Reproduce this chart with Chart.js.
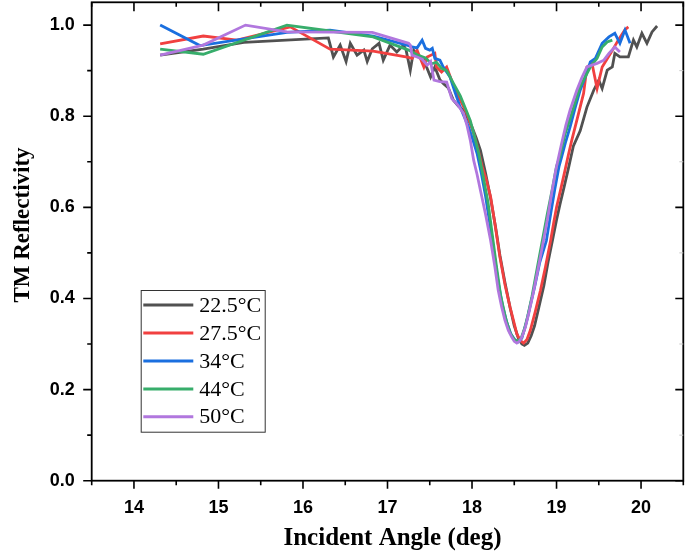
<!DOCTYPE html>
<html>
<head>
<meta charset="utf-8">
<script src="https://cdn.jsdelivr.net/npm/chart.js@4/dist/chart.umd.min.js"></script>
<style>
  html, body { margin: 0; padding: 0; background: #fff; }
  #wrap { position: relative; width: 685px; height: 559px; }
</style>
</head>
<body>
<div id="wrap"><canvas id="c" width="685" height="559"></canvas></div>
<script>
// ---------------- data ----------------
const SERIES_LABELS = ['22.5°C', '27.5°C', '34°C', '44°C', '50°C'];
const SERIES_COLORS = ['#515151', '#F14040', '#1A6FDF', '#37AD6B', '#B177DE'];

const X_TICKS = [14, 15, 16, 17, 18, 19, 20];
const X_MINOR = [13.5, 14.5, 15.5, 16.5, 17.5, 18.5, 19.5, 20.5];
const Y_TICKS = [0.0, 0.2, 0.4, 0.6, 0.8, 1.0];
const Y_MINOR = [0.1, 0.3, 0.5, 0.7, 0.9];

const ANGLE_225 = [14.31, 14.82, 15.30, 16.30, 16.36, 16.44, 16.51, 16.56, 16.64, 16.72, 16.76, 16.82, 16.90, 16.95, 17.03, 17.11, 17.19, 17.22, 17.27, 17.31, 17.37, 17.43, 17.51, 17.56, 17.62, 17.66, 17.72, 17.78, 17.84, 17.90, 17.95, 18.00, 18.05, 18.10, 18.16, 18.22, 18.28, 18.33, 18.39, 18.45, 18.50, 18.55, 18.59, 18.62, 18.66, 18.70, 18.74, 18.79, 18.85, 18.90, 18.96, 19.00, 19.04, 19.09, 19.14, 19.20, 19.28, 19.36, 19.44, 19.50, 19.54, 19.60, 19.66, 19.69, 19.75, 19.85, 19.91, 19.95, 20.01, 20.07, 20.13, 20.19];
const REFL_225  = [0.934, 0.947, 0.962, 0.972, 0.930, 0.956, 0.920, 0.960, 0.934, 0.945, 0.920, 0.948, 0.960, 0.923, 0.956, 0.941, 0.956, 0.945, 0.901, 0.945, 0.930, 0.923, 0.886, 0.908, 0.880, 0.872, 0.862, 0.835, 0.822, 0.813, 0.795, 0.776, 0.752, 0.725, 0.675, 0.620, 0.555, 0.495, 0.435, 0.380, 0.340, 0.312, 0.300, 0.297, 0.302, 0.318, 0.340, 0.380, 0.428, 0.480, 0.535, 0.572, 0.606, 0.645, 0.685, 0.735, 0.768, 0.820, 0.857, 0.879, 0.861, 0.901, 0.908, 0.938, 0.930, 0.930, 0.967, 0.952, 0.982, 0.960, 0.985, 0.998];

const ANGLE_275 = [14.31, 14.82, 15.22, 15.85, 16.32, 16.83, 17.25, 17.29, 17.35, 17.43, 17.47, 17.56, 17.58, 17.64, 17.70, 17.76, 17.82, 17.88, 17.94, 18.02, 18.07, 18.12, 18.17, 18.22, 18.27, 18.33, 18.39, 18.45, 18.50, 18.53, 18.57, 18.61, 18.65, 18.69, 18.75, 18.81, 18.87, 18.93, 18.97, 19.00, 19.05, 19.10, 19.14, 19.18, 19.24, 19.32, 19.36, 19.42, 19.48, 19.54, 19.64, 19.73, 19.81, 19.85];
const REFL_275  = [0.959, 0.976, 0.967, 0.996, 0.947, 0.943, 0.929, 0.927, 0.945, 0.908, 0.930, 0.938, 0.908, 0.897, 0.908, 0.878, 0.850, 0.828, 0.806, 0.762, 0.728, 0.690, 0.660, 0.623, 0.565, 0.491, 0.430, 0.381, 0.345, 0.322, 0.308, 0.302, 0.310, 0.330, 0.372, 0.418, 0.470, 0.527, 0.570, 0.600, 0.640, 0.681, 0.715, 0.747, 0.791, 0.850, 0.908, 0.916, 0.861, 0.908, 0.938, 0.967, 0.990, 0.996];

const ANGLE_34 = [14.31, 14.78, 15.81, 16.32, 16.83, 17.25, 17.29, 17.35, 17.41, 17.45, 17.50, 17.53, 17.56, 17.62, 17.66, 17.74, 17.80, 17.86, 17.91, 17.96, 18.01, 18.06, 18.11, 18.16, 18.21, 18.26, 18.31, 18.36, 18.41, 18.46, 18.51, 18.55, 18.59, 18.64, 18.69, 18.74, 18.80, 18.88, 18.93, 18.98, 19.03, 19.06, 19.11, 19.16, 19.22, 19.28, 19.34, 19.40, 19.46, 19.54, 19.62, 19.69, 19.75, 19.81, 19.87];
const REFL_34  = [1.000, 0.955, 0.984, 0.989, 0.976, 0.955, 0.952, 0.950, 0.967, 0.949, 0.945, 0.949, 0.927, 0.923, 0.908, 0.886, 0.852, 0.820, 0.798, 0.776, 0.748, 0.718, 0.675, 0.625, 0.565, 0.500, 0.435, 0.385, 0.348, 0.322, 0.308, 0.305, 0.313, 0.345, 0.385, 0.425, 0.478, 0.527, 0.585, 0.640, 0.690, 0.710, 0.745, 0.776, 0.818, 0.857, 0.886, 0.919, 0.927, 0.960, 0.974, 0.982, 0.960, 0.989, 0.960];

const ANGLE_44 = [14.31, 14.82, 15.81, 16.32, 16.83, 17.25, 17.35, 17.45, 17.52, 17.58, 17.64, 17.70, 17.78, 17.86, 17.92, 17.98, 18.03, 18.08, 18.13, 18.19, 18.24, 18.29, 18.34, 18.40, 18.45, 18.50, 18.54, 18.58, 18.62, 18.66, 18.71, 18.77, 18.83, 18.89, 18.95, 19.00, 19.04, 19.10, 19.18, 19.28, 19.40, 19.48, 19.54, 19.60, 19.66];
const REFL_44  = [0.947, 0.936, 1.000, 0.987, 0.974, 0.945, 0.935, 0.928, 0.915, 0.918, 0.905, 0.900, 0.872, 0.845, 0.818, 0.790, 0.755, 0.718, 0.670, 0.610, 0.540, 0.470, 0.405, 0.355, 0.325, 0.310, 0.306, 0.312, 0.333, 0.362, 0.405, 0.465, 0.525, 0.585, 0.640, 0.690, 0.712, 0.760, 0.806, 0.865, 0.908, 0.927, 0.952, 0.963, 0.967];

const ANGLE_50 = [14.31, 14.82, 15.32, 15.81, 16.82, 17.25, 17.27, 17.29, 17.35, 17.41, 17.47, 17.51, 17.55, 17.62, 17.70, 17.76, 17.83, 17.90, 17.94, 17.98, 18.02, 18.06, 18.10, 18.16, 18.22, 18.27, 18.31, 18.35, 18.39, 18.43, 18.47, 18.50, 18.53, 18.56, 18.59, 18.63, 18.67, 18.72, 18.77, 18.83, 18.89, 18.94, 18.99, 19.03, 19.06, 19.11, 19.16, 19.20, 19.24, 19.30, 19.36, 19.42, 19.48, 19.56, 19.62, 19.69, 19.75];
const REFL_50  = [0.934, 0.956, 1.000, 0.985, 0.984, 0.960, 0.956, 0.934, 0.930, 0.925, 0.912, 0.920, 0.879, 0.876, 0.875, 0.839, 0.825, 0.806, 0.780, 0.747, 0.703, 0.672, 0.637, 0.585, 0.527, 0.470, 0.418, 0.382, 0.352, 0.330, 0.315, 0.306, 0.302, 0.306, 0.315, 0.336, 0.366, 0.408, 0.454, 0.512, 0.571, 0.628, 0.681, 0.715, 0.740, 0.780, 0.813, 0.835, 0.857, 0.885, 0.908, 0.912, 0.916, 0.923, 0.938, 0.952, 0.941];

const ANGLES = [ANGLE_225, ANGLE_275, ANGLE_34, ANGLE_44, ANGLE_50];
const REFLS  = [REFL_225, REFL_275, REFL_34, REFL_44, REFL_50];

// ---------------- chart ----------------
const PLOT = { left: 91.7, right: 683.3, top: 2.3, bottom: 480.7 };
const W = 685, H = 559;

const datasets = SERIES_LABELS.map((lab, i) => ({
  label: lab,
  data: ANGLES[i].map((a, k) => ({ x: a, y: REFLS[i][k] })),
  borderColor: SERIES_COLORS[i],
  backgroundColor: SERIES_COLORS[i],
  borderWidth: 2.8,
  pointRadius: 0,
  tension: 0,
  fill: false,
  order: SERIES_LABELS.length - i
}));

const framePlugin = {
  id: 'frame',
  afterDraw(chart) {
    const ctx = chart.ctx;
    const xs = chart.scales.x, ys = chart.scales.y;
    const a = chart.chartArea;
    ctx.save();
    ctx.strokeStyle = '#000';
    ctx.lineWidth = 1.8;
    ctx.strokeRect(a.left, a.top, a.right - a.left, a.bottom - a.top);
    ctx.lineWidth = 1.6;
    ctx.beginPath();
    X_TICKS.forEach(v => {
      const p = xs.getPixelForValue(v);
      ctx.moveTo(p, a.bottom); ctx.lineTo(p, a.bottom + 8);
      ctx.moveTo(p, a.top); ctx.lineTo(p, a.top + 9);
    });
    X_MINOR.forEach(v => {
      const p = xs.getPixelForValue(v);
      ctx.moveTo(p, a.bottom); ctx.lineTo(p, a.bottom + 4.5);
      ctx.moveTo(p, a.top); ctx.lineTo(p, a.top + 4.5);
    });
    Y_TICKS.forEach(v => {
      const p = ys.getPixelForValue(v);
      ctx.moveTo(a.left, p); ctx.lineTo(a.left - 8.5, p);
      ctx.moveTo(a.right, p); ctx.lineTo(a.right - 8, p);
    });
    Y_MINOR.forEach(v => {
      const p = ys.getPixelForValue(v);
      ctx.moveTo(a.left, p); ctx.lineTo(a.left - 4.5, p);
    });
    ctx.stroke();
    ctx.strokeStyle = '#c8c8c8';
    ctx.lineWidth = 1;
    ctx.beginPath();
    Y_MINOR.forEach(v => {
      const p = ys.getPixelForValue(v);
      ctx.moveTo(a.right, p); ctx.lineTo(a.right - 4, p);
    });
    ctx.stroke();

    ctx.fillStyle = '#000';
    ctx.textAlign = 'center';
    ctx.textBaseline = 'middle';
    ctx.font = 'bold 25px "Liberation Serif", "Times New Roman", serif';
    ctx.fillText('Incident Angle (deg)', 392.5, 539);
    ctx.save();
    ctx.translate(23, 225);
    ctx.rotate(-Math.PI / 2);
    ctx.font = 'bold 23px "Liberation Serif", "Times New Roman", serif';
    ctx.fillText('TM Reflectivity', 0, 0);
    ctx.restore();

    const box = { l: 140.7, t: 290, r: 265.7, b: 432.7 };
    ctx.fillStyle = '#fff';
    ctx.fillRect(box.l, box.t, box.r - box.l, box.b - box.t);
    ctx.strokeStyle = '#333';
    ctx.lineWidth = 1;
    ctx.strokeRect(box.l + 0.5, box.t + 0.5, box.r - box.l - 1, box.b - box.t - 1);
    const rowY = [305, 333, 361, 389, 416.7];
    ctx.font = '22px "Liberation Serif", "Times New Roman", serif';
    ctx.textAlign = 'left';
    ctx.textBaseline = 'middle';
    chart.data.datasets.forEach((ds, i) => {
      ctx.strokeStyle = ds.borderColor;
      ctx.lineWidth = 3;
      ctx.beginPath();
      ctx.moveTo(143.3, rowY[i]); ctx.lineTo(193.3, rowY[i]);
      ctx.stroke();
      ctx.fillStyle = '#000';
      ctx.fillText(ds.label, 199.3, rowY[i] + 1);
    });
    ctx.restore();
  }
};

new Chart(document.getElementById('c'), {
  type: 'line',
  data: { datasets },
  options: {
    responsive: false,
    animation: false,
    devicePixelRatio: 1,
    layout: { padding: { top: PLOT.top, right: W - PLOT.right, left: 0, bottom: 0 } },
    plugins: { legend: { display: false }, tooltip: { enabled: false } },
    scales: {
      x: {
        type: 'linear', position: 'bottom', min: 13.5, max: 20.5,
        grid: { display: false, drawTicks: false },
        border: { display: false },
        afterBuildTicks: s => { s.ticks = X_TICKS.map(v => ({ value: v })); },
        afterFit: s => { s.height = H - PLOT.bottom; s.paddingLeft = 0; s.paddingRight = 0; s.paddingTop = 0; s.paddingBottom = 0; },
        ticks: {
          padding: 17, color: '#000', maxRotation: 0, autoSkip: false,
          font: { family: '"Liberation Sans", Arial, sans-serif', size: 18, weight: 'bold' },
          callback: v => String(v)
        }
      },
      y: {
        type: 'linear', position: 'left', min: 0, max: 1.05,
        grid: { display: false, drawTicks: false },
        border: { display: false },
        afterBuildTicks: s => { s.ticks = Y_TICKS.map(v => ({ value: v })); },
        afterFit: s => { s.width = PLOT.left; s.paddingLeft = 0; s.paddingRight = 0; s.paddingTop = 0; s.paddingBottom = 0; },
        ticks: {
          padding: 17, color: '#000', autoSkip: false,
          font: { family: '"Liberation Sans", Arial, sans-serif', size: 18, weight: 'bold' },
          callback: v => Number(v).toFixed(1)
        }
      }
    }
  },
  plugins: [framePlugin]
});
</script>
</body>
</html>
